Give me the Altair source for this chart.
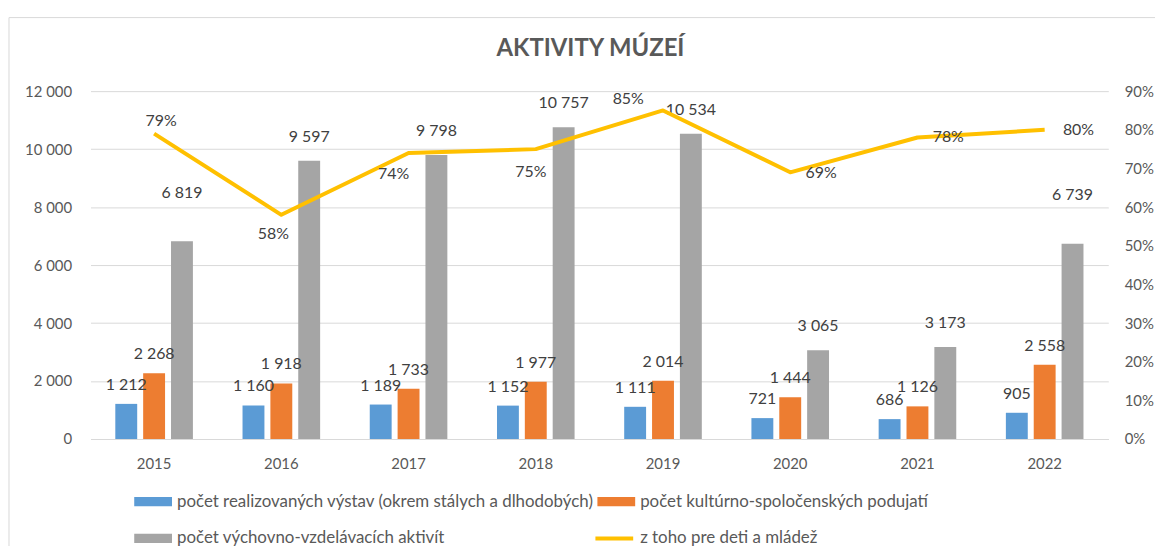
import altair as alt
import pandas as pd

years = ["2015", "2016", "2017", "2018", "2019", "2020", "2021", "2022"]
exhibitions = [1212, 1160, 1189, 1152, 1111, 721, 686, 905]
cultural = [2268, 1918, 1733, 1977, 2014, 1444, 1126, 2558]
educational = [6819, 9597, 9798, 10757, 10534, 3065, 3173, 6739]
youth_share = [0.79, 0.58, 0.74, 0.75, 0.85, 0.69, 0.78, 0.80]
pct_ticks = [0.0, 0.1, 0.2, 0.3, 0.4, 0.5, 0.6, 0.7, 0.8, 0.9]

s_exh = "počet realizovaných výstav (okrem stálych a dlhodobých)"
s_cul = "počet kultúrno-spoločenských podujatí"
s_edu = "počet výchovno-vzdelávacích aktivít"
s_line = "z toho pre deti a mládež"
series = [s_exh, s_cul, s_edu]

bars_df = pd.DataFrame({
    "year": years * 3,
    "series": [s_exh] * 8 + [s_cul] * 8 + [s_edu] * 8,
    "value": exhibitions + cultural + educational,
})
line_df = pd.DataFrame({"year": years, "share": youth_share, "name": [s_line] * 8})

FONT = "Lato"
TXT = "#595959"
LBL = "#404040"
GRID = "#D9D9D9"

x_scale = alt.Scale(domain=years, paddingInner=0.39, paddingOuter=0.195)
x_axis = alt.Axis(title=None, labelAngle=0, ticks=False, domainColor=GRID,
                  labelPadding=18, labelFontSize=15, labelColor=TXT, labelFont=FONT)
x_enc = alt.X("year:N", scale=x_scale, axis=x_axis)
xoff = alt.XOffset("series:N", scale=alt.Scale(domain=series, paddingInner=0.214))

y_left = alt.Y("value:Q", scale=alt.Scale(domain=[0, 12000]),
               axis=alt.Axis(title=None, values=list(range(0, 12001, 2000)),
                             labelExpr="replace(format(datum.value, ','), ',', ' ')",
                             domain=False, ticks=False, gridColor=GRID, labelPadding=19,
                             labelOverlap=False,
                             labelFontSize=15, labelColor=TXT, labelFont=FONT))

color = alt.Color("series:N",
                  scale=alt.Scale(domain=series, range=["#5B9BD5", "#ED7D31", "#A5A5A5"]),
                  legend=alt.Legend(title=None, orient="none", legendX=44, legendY=394,
                                    direction="horizontal", columns=2, columnPadding=3,
                                    rowPadding=10,
                                    symbolType="M-1,-0.24H1V0.24H-1Z", symbolSize=1444,
                                    symbolStrokeWidth=0, labelLimit=700, labelFontSize=17,
                                    labelFont=FONT, labelColor=TXT, labelOffset=5))

bars = alt.Chart(bars_df).mark_bar().encode(x=x_enc, xOffset=xoff, y=y_left, color=color)

bar_text = alt.Chart(bars_df).transform_calculate(
    label="replace(format(datum.value, ','), ',', ' ')"
).mark_text(
    font=FONT, fontSize=16, color=LBL, baseline="middle",
    dy=alt.expr("datum.series == '" + s_edu + "' ? ((datum.year == '2015' || datum.year == '2022') ? -49 : -24) : -19"),
).encode(x=x_enc, xOffset=xoff, y=y_left, text="label:N")

y_right = alt.Y("share:Q", scale=alt.Scale(domain=[0, 0.9]),
                axis=alt.Axis(title=None, orient="right", format=".0%",
                              values=pct_ticks, grid=False, tickCount=10,
                              domain=False, ticks=False, labelPadding=16,
                              labelOverlap=False,
                              labelFontSize=15, labelColor=TXT, labelFont=FONT))

stroke = alt.Stroke("name:N", scale=alt.Scale(domain=[s_line], range=["#FFC000"]),
                    legend=alt.Legend(title=None, orient="none", legendX=506, legendY=429,
                                      symbolType="stroke", symbolSize=1444,
                                      symbolStrokeWidth=4, labelLimit=700, labelFontSize=17,
                                      labelFont=FONT, labelColor=TXT, labelOffset=5))

line = alt.Chart(line_df).mark_line(strokeWidth=4, strokeJoin="round").encode(
    x=x_enc, y=y_right, stroke=stroke)

yrs = "['2015','2016','2017','2018','2019','2020','2021','2022']"
dx_expr = "[7, -8, -15, -5, -35, 31, 31, 34][indexof(" + yrs + ", datum.year)]"
dy_expr = "[-13, 19, 21, 23, -12, 1, 0, 0][indexof(" + yrs + ", datum.year)]"

line_text = alt.Chart(line_df).transform_calculate(
    label="format(datum.share, '.0%')"
).mark_text(
    font=FONT, fontSize=16, color=LBL, baseline="middle",
    dx=alt.expr(dx_expr), dy=alt.expr(dy_expr),
).encode(x=x_enc, y=y_right, text="label:N")

dummy = pd.DataFrame({"k": [0]})
border_v = alt.Chart(dummy).mark_rule(color=GRID, strokeWidth=1).encode(
    x=alt.value(-82), y=alt.value(-74), y2=alt.value(460))
border_h = alt.Chart(dummy).mark_rule(color=GRID, strokeWidth=1).encode(
    x=alt.value(-82), x2=alt.value(1080), y=alt.value(-74))

chart = alt.layer(
    alt.layer(bars, bar_text),
    alt.layer(line, line_text),
    border_v, border_h,
).resolve_scale(y="independent").properties(
    width=1024, height=350,
    padding={"left": 83, "top": 82, "right": 47, "bottom": 106},
    autosize=alt.AutoSizeParams(type="none"),
    title=alt.Title("AKTIVITY MÚZEÍ", fontSize=24, font=FONT, fontWeight="bold",
                    color=TXT, offset=-44, dx=-9),
).configure_view(stroke=None)

chart.save("out.html", embed_options={"renderer": "svg", "actions": False})
